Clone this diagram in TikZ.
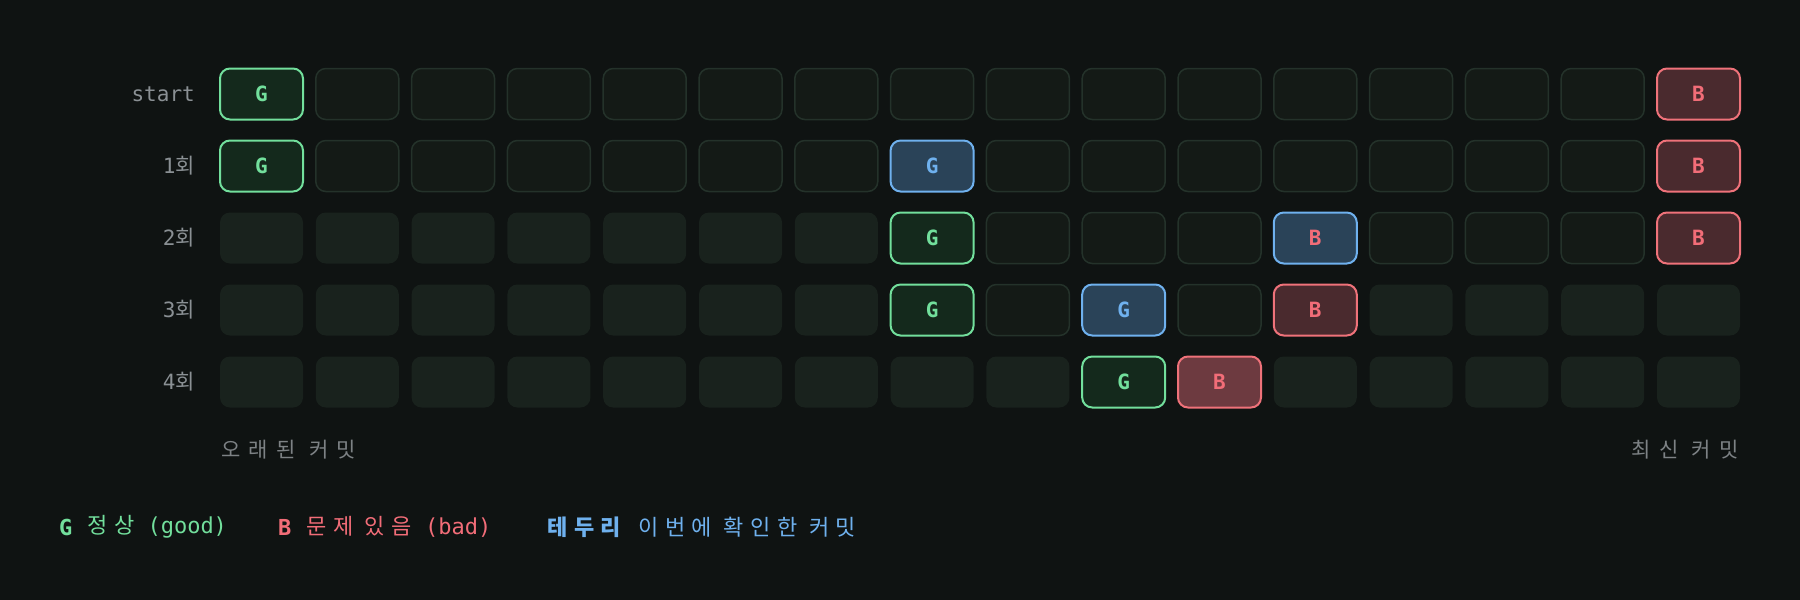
\documentclass[tikz,border=0pt]{standalone}
\usepackage{fontspec}
\setmonofont{DejaVu Sans Mono}
\newfontfamily\kr{Noto Sans CJK KR}
\newfontfamily\krL{Noto Sans CJK KR}[LetterSpace=30]
\newfontfamily\krB{Noto Sans CJK KR}[LetterSpace=40]
\definecolor{bgc}{HTML}{0F1312}
\definecolor{emptyfill}{HTML}{141A16}
\definecolor{emptydraw}{HTML}{24322A}
\definecolor{exfill}{HTML}{19221D}
\definecolor{gfill}{HTML}{14291C}
\definecolor{gdraw}{HTML}{72DF9C}
\definecolor{bfill}{HTML}{2A4358}
\definecolor{bdraw}{HTML}{6FB1EE}
\definecolor{rfill}{HTML}{4A2A2E}
\definecolor{rfilltwo}{HTML}{6D3A40}
\definecolor{rdraw}{HTML}{EF727A}
\definecolor{rtext}{HTML}{F26D78}
\definecolor{lblgray}{HTML}{8A9094}
\definecolor{dimgray}{HTML}{7D8285}
\newcommand\mycell[4]{\node[cell,#3] (r#1c#2) at ({261.5+95.8*#2},{94+72*#1}) {#4};}
\begin{document}
\begin{tikzpicture}[x=1pt,y=-1pt,
  cell/.style={rounded corners=10pt, minimum width=83pt, minimum height=51pt, inner sep=0pt,
    font=\ttfamily\bfseries\fontsize{21}{21}\selectfont},
  ec/.style={fill=emptyfill, draw=emptydraw, line width=1.5pt},
  xc/.style={fill=exfill},
  gc/.style={fill=gfill, draw=gdraw, line width=2pt, text=gdraw},
  bcg/.style={fill=bfill, draw=bdraw, line width=2pt, text=bdraw},
  bcb/.style={fill=bfill, draw=bdraw, line width=2pt, text=rtext},
  rc/.style={fill=rfill, draw=rdraw, line width=2pt, text=rtext},
  rctwo/.style={fill=rfilltwo, draw=rdraw, line width=2pt, text=rtext},
  rowlbl/.style={anchor=east, text=lblgray, inner sep=0pt, font=\ttfamily\fontsize{21}{21}\selectfont},
  axlbl/.style={text=dimgray, inner sep=0pt, font=\krB\fontsize{21}{21}\selectfont},
  leg/.style={anchor=west, inner sep=0pt, font=\fontsize{22}{22}\selectfont}
]
\fill[bgc] (0,0) rectangle (1800,600);
\useasboundingbox (0,0) rectangle (1800,600);

% row labels
\node[rowlbl] (l0) at (195,94) {start};
\node[rowlbl] (l1) at (195,166) {1{\kr 회}};
\node[rowlbl] (l2) at (195,238) {2{\kr 회}};
\node[rowlbl] (l3) at (195,310) {3{\kr 회}};
\node[rowlbl] (l4) at (195,382) {4{\kr 회}};

% row 0
\mycell{0}{0}{gc}{G}
\foreach \i in {1,...,14}{\mycell{0}{\i}{ec}{}}
\mycell{0}{15}{rc}{B}
% row 1
\mycell{1}{0}{gc}{G}
\foreach \i in {1,...,6}{\mycell{1}{\i}{ec}{}}
\mycell{1}{7}{bcg}{G}
\foreach \i in {8,...,14}{\mycell{1}{\i}{ec}{}}
\mycell{1}{15}{rc}{B}
% row 2
\foreach \i in {0,...,6}{\mycell{2}{\i}{xc}{}}
\mycell{2}{7}{gc}{G}
\foreach \i in {8,...,10}{\mycell{2}{\i}{ec}{}}
\mycell{2}{11}{bcb}{B}
\foreach \i in {12,...,14}{\mycell{2}{\i}{ec}{}}
\mycell{2}{15}{rc}{B}
% row 3
\foreach \i in {0,...,6}{\mycell{3}{\i}{xc}{}}
\mycell{3}{7}{gc}{G}
\mycell{3}{8}{ec}{}
\mycell{3}{9}{bcg}{G}
\mycell{3}{10}{ec}{}
\mycell{3}{11}{rc}{B}
\foreach \i in {12,...,15}{\mycell{3}{\i}{xc}{}}
% row 4
\foreach \i in {0,...,8}{\mycell{4}{\i}{xc}{}}
\mycell{4}{9}{gc}{G}
\mycell{4}{10}{rctwo}{B}
\foreach \i in {11,...,15}{\mycell{4}{\i}{xc}{}}

% axis labels
\node[axlbl, anchor=west] (old) at (221,450) {오래된 커밋};
\node[axlbl, anchor=east] (new) at (1739,450) {최신 커밋};

% legend
\node[leg, text=gdraw] (lgG) at (59,527) {\ttfamily\bfseries G};
\node[leg, text=gdraw] (lgGt) at (87,527) {{\krL 정상}\ttfamily\ (good)};
\node[leg, text=rtext] (lgB) at (278,527) {\ttfamily\bfseries B};
\node[leg, text=rtext] (lgBt) at (306,527) {{\krL 문제 있음}\ttfamily\ (bad)};
\node[leg, text=bdraw] (lgE) at (547,527) {\krL\bfseries 테두리};
\node[leg, text=bdraw] (lgEt) at (638,527) {\krL 이번에 확인한 커밋};
\end{tikzpicture}
\end{document}
